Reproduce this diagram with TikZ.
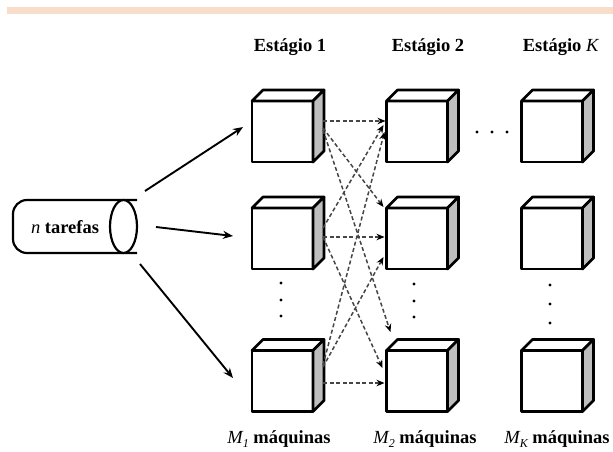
\documentclass[tikz,border=0pt]{standalone}
\usepackage{fontspec}
\setmainfont{Liberation Serif}
\usetikzlibrary{arrows.meta,calc}
\definecolor{peach}{RGB}{249,221,203}
\definecolor{sidegray}{RGB}{190,190,190}
\definecolor{dashgray}{RGB}{70,70,70}
\tikzset{
  machine/.style={draw, line width=2.7pt, fill=white, minimum width=61pt, minimum height=61pt, inner sep=0pt, outer sep=0pt, line join=round},
  face/.style={draw, line width=2.7pt, line join=round},
  feed/.style={line width=1.9pt, -{Stealth[length=10pt,width=8pt]}},
  flow/.style={dashgray, line width=1.5pt, dash pattern=on 4pt off 2.5pt, -{Stealth[length=8pt,width=6.5pt,color=black]}},
  lbl/.style={font=\fontsize{18.5}{20}\selectfont\bfseries, anchor=base, inner sep=0pt}
}
\begin{document}
\begin{tikzpicture}[x=1pt,y=-1pt]
\useasboundingbox (0,0) rectangle (613,451);
\fill[peach] (7,7) rectangle (613,14);

% stage labels
\node[lbl] (s1) at (290,51) {Estágio 1};
\node[lbl] (s2) at (428,51) {Estágio 2};
\node[lbl] (sk) at (561,51) {Estágio \textit{\mdseries K}};

% machine labels
\node[lbl] (m1) at (279,443) {\textit{\mdseries M\raisebox{-0.22em}{\fontsize{12}{12}\selectfont 1}} máquinas};
\node[lbl] (m2) at (425,443) {\textit{\mdseries M\raisebox{-0.22em}{\fontsize{12}{12}\selectfont 2}} máquinas};
\node[lbl] (mk) at (557,443) {\textit{\mdseries M\raisebox{-0.22em}{\fontsize{12}{12}\selectfont K}} máquinas};

% machines
\node[machine] (b11) at (282.5,131.5) {};
\node[machine] (b12) at (282.5,238.5) {};
\node[machine] (b13) at (282.5,381) {};
\node[machine] (b21) at (417,131.5) {};
\node[machine] (b22) at (417,238.5) {};
\node[machine] (b23) at (417,381) {};
\node[machine] (bk1) at (552,131.5) {};
\node[machine] (bk2) at (552,238.5) {};
\node[machine] (bk3) at (552,381) {};
\foreach \n in {b11,b12,b13,b21,b22,b23,bk1,bk2,bk3}{
  \filldraw[face, fill=white] (\n.north west) -- ++(11,-11) -- ($(\n.north east)+(11,-11)$) -- (\n.north east) -- cycle;
  \filldraw[face, fill=sidegray] (\n.north east) -- ++(11,-11) -- ($(\n.south east)+(11,-11)$) -- (\n.south east) -- cycle;
}

% cylinder
\node[minimum width=124pt, minimum height=53pt, inner sep=0pt, outer sep=0pt] (cyl) at (75,226.5) {};
\draw[line width=2.2pt, rounded corners=14pt] (cyl.north east) -- (cyl.north west) -- (cyl.south west) -- (cyl.south east);
\draw[line width=2.2pt, fill=white] ($(cyl.east)+(-13.5,0)$) ellipse [x radius=13.5pt, y radius=26.5pt];
\node[font=\fontsize{18.5}{20}\selectfont, inner sep=0pt] (cyltxt) at ($(cyl.center)+(-10,1)$) {\textit{n} \textbf{tarefas}};

% feed arrows
\draw[feed] ($(cyl.east)+(8,-35.5)$) -- ($(b11.west)+(-9,-4.5)$);
\draw[feed] ($(cyl.east)+(19,0.5)$) -- ($(b12.west)+(-19,-2.5)$);
\draw[feed] ($(cyl.east)+(3,37.5)$) -- ($(b13.west)+(-19,-3)$);

% dashed flows stage 1 -> stage 2
\draw[flow] ($(b11.east)+(10,-10.5)$) -- ($(b21.west)+(-1,-10.5)$);
\draw[flow] ($(b11.east)+(10,-3.5)$) -- ($(b22.west)+(-3,-31.5)$);
\draw[flow] ($(b11.east)+(10,-1.5)$) -- ($(b23.west)+(4,-49)$);
\draw[flow] ($(b12.east)+(10,-10.5)$) -- ($(b21.west)+(-3,-6.5)$);
\draw[flow] ($(b12.east)+(10,-1.5)$) -- ($(b22.west)+(-2,-1.5)$);
\draw[flow] ($(b12.east)+(10,-1.5)$) -- ($(b23.west)+(-4,-13)$);
\draw[flow] ($(b13.east)+(10,-16)$) -- ($(b21.west)+(-2,0.5)$);
\draw[flow] ($(b13.east)+(10,-14)$) -- ($(b22.west)+(-3,18.5)$);
\draw[flow] ($(b13.east)+(10,2)$) -- ($(b23.west)+(-2,2)$);

% dots
\foreach \y in {283,300,316}{ \fill (281,\y) circle (1.7pt); \fill (414,\y+1) circle (1.7pt); }
\foreach \y in {285,304,323}{ \fill (550,\y) circle (1.7pt); }
\foreach \x in {477,492,507}{ \fill (\x,132) circle (1.7pt); }
\end{tikzpicture}
\end{document}
